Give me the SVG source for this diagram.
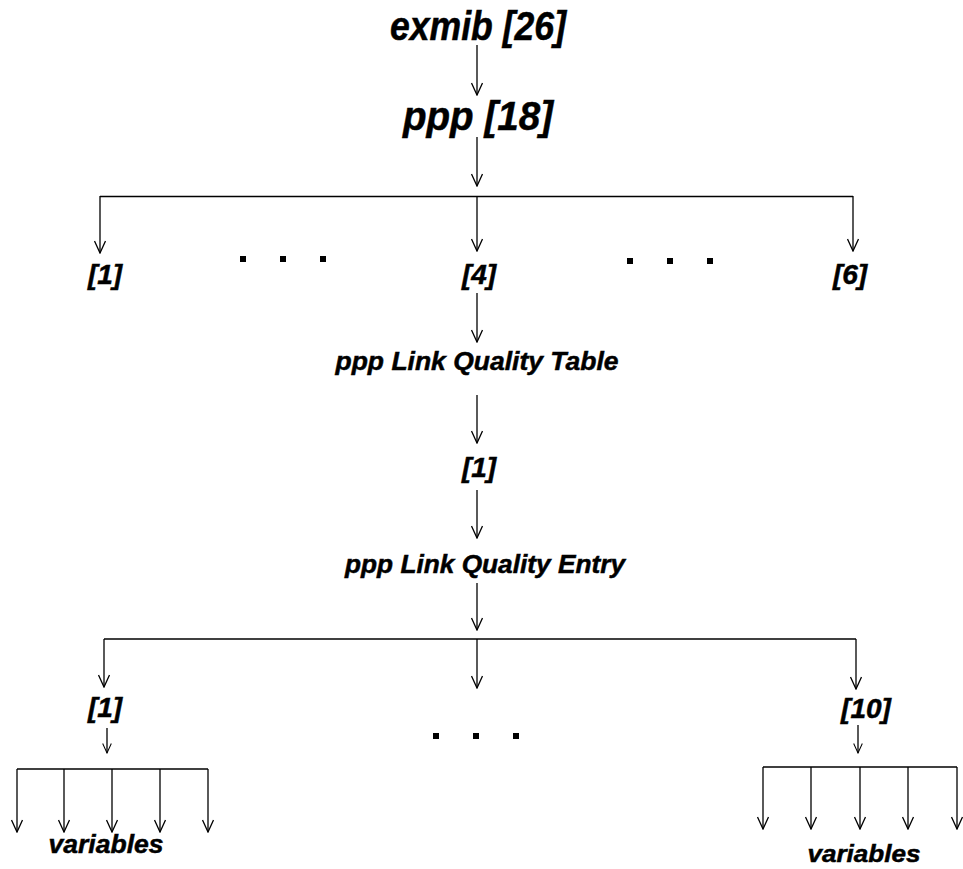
<svg xmlns="http://www.w3.org/2000/svg" width="963" height="869" viewBox="0 0 963 869">
<defs>
<marker id="ah" viewBox="0 0 14 12" refX="13" refY="6" markerWidth="14" markerHeight="12" markerUnits="userSpaceOnUse" orient="auto">
<path d="M1,0.5 L13,6 L1,11.5" fill="none" stroke="#000" stroke-width="1.3"/>
</marker>
<marker id="ahs" viewBox="0 0 14 12" refX="13" refY="6" markerWidth="11" markerHeight="10" markerUnits="userSpaceOnUse" orient="auto">
<path d="M1,0.5 L13,6 L1,11.5" fill="none" stroke="#000" stroke-width="1.3"/>
</marker>
</defs>
<style>
.t{font-family:"Liberation Sans",Arial,sans-serif;font-weight:bold;font-style:italic;fill:#000;stroke:#000;stroke-width:0.5;text-anchor:middle}
.c line{stroke:#000;stroke-width:1.3;fill:none}
.a{marker-end:url(#ah)}
.as{marker-end:url(#ahs)}
.d rect{fill:#000}
</style>
<rect width="963" height="869" fill="#fff"/>
<g class="c" id="connectors">
<line class="a" x1="477" y1="45" x2="477" y2="95"/>
<line class="a" x1="477" y1="137" x2="477" y2="186"/>
<line x1="100" y1="196.5" x2="853" y2="196.5"/>
<line class="a" x1="100" y1="196" x2="100" y2="253"/>
<line class="a" x1="477" y1="196" x2="477" y2="251"/>
<line class="a" x1="853" y1="196" x2="853" y2="251"/>
<line class="a" x1="477" y1="293" x2="477" y2="342"/>
<line class="a" x1="477" y1="395" x2="477" y2="443"/>
<line class="a" x1="477" y1="490" x2="477" y2="538"/>
<line class="a" x1="477" y1="583" x2="477" y2="630"/>
<line x1="104" y1="639" x2="856" y2="639"/>
<line class="a" x1="477" y1="639" x2="477" y2="688"/>
<line class="a" x1="104" y1="639" x2="104" y2="687"/>
<line class="a" x1="856" y1="639" x2="856" y2="689"/>
<line class="as" x1="107" y1="728" x2="107" y2="753"/>
<line x1="17" y1="769" x2="208" y2="769"/>
<line x1="17" y1="769" x2="17" y2="832" class="a"/>
<line x1="64" y1="769" x2="64" y2="832" class="a"/>
<line x1="112" y1="769" x2="112" y2="832" class="a"/>
<line x1="160" y1="769" x2="160" y2="832" class="a"/>
<line x1="208" y1="769" x2="208" y2="832" class="a"/>
<line class="as" x1="858" y1="725" x2="858" y2="753"/>
<line x1="763" y1="767" x2="957" y2="767"/>
<line x1="763" y1="767" x2="763" y2="829" class="a"/>
<line x1="811" y1="767" x2="811" y2="829" class="a"/>
<line x1="860" y1="767" x2="860" y2="829" class="a"/>
<line x1="908" y1="767" x2="908" y2="829" class="a"/>
<line x1="957" y1="767" x2="957" y2="829" class="a"/>
</g>
<g id="exmib"><text class="t" x="478" y="40" font-size="40" textLength="176" lengthAdjust="spacingAndGlyphs">exmib [26]</text></g>
<g id="ppp"><text class="t" x="478" y="130" font-size="40" textLength="150" lengthAdjust="spacingAndGlyphs">ppp [18]</text></g>
<g id="n1"><text class="t" x="105" y="284" font-size="28">[1]</text></g>
<g id="n4"><text class="t" x="479" y="284" font-size="28">[4]</text></g>
<g id="n6"><text class="t" x="850" y="284" font-size="28">[6]</text></g>
<g id="dots1" class="d"><rect x="240" y="256" width="6" height="6"/><rect x="280" y="256" width="6" height="6"/><rect x="320" y="256" width="6" height="6"/></g>
<g id="dots2" class="d"><rect x="627" y="258" width="6" height="6"/><rect x="667" y="258" width="6" height="6"/><rect x="707" y="258" width="6" height="6"/></g>
<g id="table"><text class="t" x="477" y="370" font-size="26" textLength="283" lengthAdjust="spacingAndGlyphs">ppp Link Quality Table</text></g>
<g id="idx1"><text class="t" x="479" y="477" font-size="28">[1]</text></g>
<g id="entry"><text class="t" x="485" y="573" font-size="26" textLength="280" lengthAdjust="spacingAndGlyphs">ppp Link Quality Entry</text></g>
<g id="e1"><text class="t" x="105" y="717" font-size="28">[1]</text></g>
<g id="e10"><text class="t" x="866" y="718" font-size="28">[10]</text></g>
<g id="dots3" class="d"><rect x="433" y="733" width="6" height="6"/><rect x="473" y="733" width="6" height="6"/><rect x="513" y="733" width="6" height="6"/></g>
<g id="vars1"><text class="t" x="106" y="853" font-size="25" textLength="115" lengthAdjust="spacingAndGlyphs">variables</text></g>
<g id="vars2"><text class="t" x="864" y="862" font-size="24" textLength="113" lengthAdjust="spacingAndGlyphs">variables</text></g>
</svg>
